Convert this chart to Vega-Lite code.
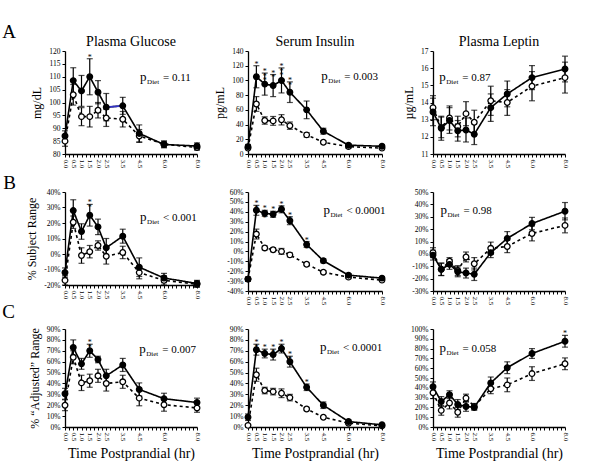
{
"$schema":"https://vega.github.io/schema/vega-lite/v6.json",
"padding":{"left":2,"top":23,"right":0,"bottom":0},
"background":"white",
"title":{"text":"A","anchor":"start","fontSize":19,"offset":-7,"frame":"bounds"},
"datasets":{"d":[
{"p":"A1","s":"F","t":0,"v":87,"e":2},{"p":"A1","s":"F","t":0.5,"v":108.5,"e":5},{"p":"A1","s":"F","t":1,"v":104.5,"e":6},{"p":"A1","s":"F","t":1.5,"v":110,"e":7,"sig":"*"},{"p":"A1","s":"F","t":2,"v":104,"e":4.5},{"p":"A1","s":"F","t":2.5,"v":98.2,"e":5.3},{"p":"A1","s":"F","t":3.5,"v":98.7,"e":3.3},{"p":"A1","s":"F","t":4.5,"v":88,"e":3.3},{"p":"A1","s":"F","t":6,"v":83.7,"e":1.3},{"p":"A1","s":"F","t":8,"v":83.1,"e":1.2},
{"p":"A1","s":"O","t":0,"v":85,"e":2},{"p":"A1","s":"O","t":0.5,"v":103,"e":4},{"p":"A1","s":"O","t":1,"v":94.5,"e":3.5},{"p":"A1","s":"O","t":1.5,"v":94.5,"e":4},{"p":"A1","s":"O","t":2,"v":97,"e":3},{"p":"A1","s":"O","t":2.5,"v":94,"e":3.3},{"p":"A1","s":"O","t":3.5,"v":93.5,"e":3},{"p":"A1","s":"O","t":4.5,"v":87,"e":2.5},{"p":"A1","s":"O","t":6,"v":83.8,"e":1.2},{"p":"A1","s":"O","t":8,"v":82.5,"e":1},
{"p":"A2","s":"F","t":0,"v":10,"e":3},{"p":"A2","s":"F","t":0.5,"v":105,"e":15,"sig":"*"},{"p":"A2","s":"F","t":1,"v":95,"e":15,"sig":"*|*|*"},{"p":"A2","s":"F","t":1.5,"v":93,"e":15,"sig":"*|*"},{"p":"A2","s":"F","t":2,"v":100,"e":17,"sig":"*|*|*"},{"p":"A2","s":"F","t":2.5,"v":84,"e":14,"sig":"*|*"},{"p":"A2","s":"F","t":3.5,"v":60,"e":12},{"p":"A2","s":"F","t":4.5,"v":31,"e":4},{"p":"A2","s":"F","t":6,"v":12,"e":2},{"p":"A2","s":"F","t":8,"v":10.5,"e":2},
{"p":"A2","s":"O","t":0,"v":8,"e":2},{"p":"A2","s":"O","t":0.5,"v":68,"e":10},{"p":"A2","s":"O","t":1,"v":45.5,"e":5},{"p":"A2","s":"O","t":1.5,"v":45,"e":6},{"p":"A2","s":"O","t":2,"v":46.5,"e":7},{"p":"A2","s":"O","t":2.5,"v":38.5,"e":5},{"p":"A2","s":"O","t":3.5,"v":26,"e":3},{"p":"A2","s":"O","t":4.5,"v":16,"e":2},{"p":"A2","s":"O","t":6,"v":10,"e":2},{"p":"A2","s":"O","t":8,"v":8,"e":2},
{"p":"A3","s":"F","t":0,"v":13.45,"e":0.8},{"p":"A3","s":"F","t":0.5,"v":12.5,"e":0.7},{"p":"A3","s":"F","t":1,"v":12.95,"e":0.75},{"p":"A3","s":"F","t":1.5,"v":12.35,"e":0.6},{"p":"A3","s":"F","t":2,"v":12.4,"e":0.7},{"p":"A3","s":"F","t":2.5,"v":12.15,"e":0.6},{"p":"A3","s":"F","t":3.5,"v":13.7,"e":0.8},{"p":"A3","s":"F","t":4.5,"v":14.5,"e":0.75},{"p":"A3","s":"F","t":6,"v":15.45,"e":0.7},{"p":"A3","s":"F","t":8,"v":15.95,"e":0.75},
{"p":"A3","s":"O","t":0,"v":13.7,"e":0.7},{"p":"A3","s":"O","t":0.5,"v":12.55,"e":0.6},{"p":"A3","s":"O","t":1,"v":13.1,"e":0.7},{"p":"A3","s":"O","t":1.5,"v":12.6,"e":0.6},{"p":"A3","s":"O","t":2,"v":13.35,"e":0.7},{"p":"A3","s":"O","t":2.5,"v":12.85,"e":0.7},{"p":"A3","s":"O","t":3.5,"v":14.1,"e":0.85},{"p":"A3","s":"O","t":4.5,"v":14.0,"e":0.75},{"p":"A3","s":"O","t":6,"v":14.95,"e":0.85},{"p":"A3","s":"O","t":8,"v":15.45,"e":0.9},
{"p":"B1","s":"F","t":0,"v":-12,"e":3},{"p":"B1","s":"F","t":0.5,"v":28,"e":7},{"p":"B1","s":"F","t":1,"v":14.5,"e":5},{"p":"B1","s":"F","t":1.5,"v":25,"e":7,"sig":"*|*"},{"p":"B1","s":"F","t":2,"v":17.5,"e":5},{"p":"B1","s":"F","t":2.5,"v":4,"e":6},{"p":"B1","s":"F","t":3.5,"v":11.5,"e":4.5},{"p":"B1","s":"F","t":4.5,"v":-8.5,"e":6},{"p":"B1","s":"F","t":6,"v":-15.5,"e":3},{"p":"B1","s":"F","t":8,"v":-19,"e":2},
{"p":"B1","s":"O","t":0,"v":-17,"e":3},{"p":"B1","s":"O","t":0.5,"v":20.5,"e":4},{"p":"B1","s":"O","t":1,"v":-1,"e":5},{"p":"B1","s":"O","t":1.5,"v":1.5,"e":4},{"p":"B1","s":"O","t":2,"v":5.5,"e":3},{"p":"B1","s":"O","t":2.5,"v":-1.5,"e":5},{"p":"B1","s":"O","t":3.5,"v":1,"e":4},{"p":"B1","s":"O","t":4.5,"v":-12,"e":4},{"p":"B1","s":"O","t":6,"v":-17,"e":3},{"p":"B1","s":"O","t":8,"v":-19.5,"e":2},
{"p":"B2","s":"F","t":0,"v":-28,"e":2},{"p":"B2","s":"F","t":0.5,"v":41.5,"e":5,"sig":"*|*|*"},{"p":"B2","s":"F","t":1,"v":38.5,"e":3,"sig":"*|*|*"},{"p":"B2","s":"F","t":1.5,"v":37.5,"e":3,"sig":"*|*|*"},{"p":"B2","s":"F","t":2,"v":42.5,"e":3.5,"sig":"*|*|*"},{"p":"B2","s":"F","t":2.5,"v":31,"e":4,"sig":"*|*|*"},{"p":"B2","s":"F","t":3.5,"v":7,"e":3,"sig":"*|*|*"},{"p":"B2","s":"F","t":4.5,"v":-9.5,"e":2},{"p":"B2","s":"F","t":6,"v":-24,"e":1.5},{"p":"B2","s":"F","t":8,"v":-27,"e":1.5},
{"p":"B2","s":"O","t":0,"v":-28,"e":2},{"p":"B2","s":"O","t":0.5,"v":17.5,"e":5},{"p":"B2","s":"O","t":1,"v":3.5,"e":2},{"p":"B2","s":"O","t":1.5,"v":1.7,"e":2},{"p":"B2","s":"O","t":2,"v":0,"e":3},{"p":"B2","s":"O","t":2.5,"v":-3.5,"e":2},{"p":"B2","s":"O","t":3.5,"v":-13,"e":1.5},{"p":"B2","s":"O","t":4.5,"v":-21,"e":1.5},{"p":"B2","s":"O","t":6,"v":-26,"e":1.5},{"p":"B2","s":"O","t":8,"v":-29,"e":1.5},
{"p":"B3","s":"F","t":0,"v":-1,"e":4},{"p":"B3","s":"F","t":0.5,"v":-12.5,"e":5},{"p":"B3","s":"F","t":1,"v":-8.5,"e":4},{"p":"B3","s":"F","t":1.5,"v":-14.5,"e":4},{"p":"B3","s":"F","t":2,"v":-15.5,"e":4},{"p":"B3","s":"F","t":2.5,"v":-16.5,"e":5},{"p":"B3","s":"F","t":3.5,"v":1,"e":4},{"p":"B3","s":"F","t":4.5,"v":12.5,"e":5.5},{"p":"B3","s":"F","t":6,"v":24.5,"e":5},{"p":"B3","s":"F","t":8,"v":34.5,"e":7},
{"p":"B3","s":"O","t":0,"v":1,"e":4},{"p":"B3","s":"O","t":0.5,"v":-12.5,"e":5},{"p":"B3","s":"O","t":1,"v":-6,"e":3},{"p":"B3","s":"O","t":1.5,"v":-13.5,"e":4},{"p":"B3","s":"O","t":2,"v":-2.5,"e":4},{"p":"B3","s":"O","t":2.5,"v":-8,"e":5},{"p":"B3","s":"O","t":3.5,"v":4.5,"e":5},{"p":"B3","s":"O","t":4.5,"v":6,"e":5},{"p":"B3","s":"O","t":6,"v":16.5,"e":6},{"p":"B3","s":"O","t":8,"v":23,"e":6},
{"p":"C1","s":"F","t":0,"v":30.5,"e":5},{"p":"C1","s":"F","t":0.5,"v":73,"e":7},{"p":"C1","s":"F","t":1,"v":58,"e":5},{"p":"C1","s":"F","t":1.5,"v":70,"e":6,"sig":"*|*"},{"p":"C1","s":"F","t":2,"v":62,"e":3},{"p":"C1","s":"F","t":2.5,"v":47,"e":6},{"p":"C1","s":"F","t":3.5,"v":57,"e":6},{"p":"C1","s":"F","t":4.5,"v":34.5,"e":6},{"p":"C1","s":"F","t":6,"v":26,"e":5},{"p":"C1","s":"F","t":8,"v":22.5,"e":4},
{"p":"C1","s":"O","t":0,"v":20,"e":5},{"p":"C1","s":"O","t":0.5,"v":64,"e":6},{"p":"C1","s":"O","t":1,"v":40.5,"e":7},{"p":"C1","s":"O","t":1.5,"v":42.5,"e":6},{"p":"C1","s":"O","t":2,"v":47,"e":6},{"p":"C1","s":"O","t":2.5,"v":40,"e":7},{"p":"C1","s":"O","t":3.5,"v":41.5,"e":6},{"p":"C1","s":"O","t":4.5,"v":26.5,"e":7},{"p":"C1","s":"O","t":6,"v":20.5,"e":6},{"p":"C1","s":"O","t":8,"v":17.5,"e":4},
{"p":"C2","s":"F","t":0,"v":9,"e":3},{"p":"C2","s":"F","t":0.5,"v":71,"e":5,"sig":"*|*|*"},{"p":"C2","s":"F","t":1,"v":67.5,"e":4,"sig":"*|*|*"},{"p":"C2","s":"F","t":1.5,"v":66.5,"e":5,"sig":"*|*|*"},{"p":"C2","s":"F","t":2,"v":72,"e":4,"sig":"*|*|*"},{"p":"C2","s":"F","t":2.5,"v":60,"e":5,"sig":"*|*|*"},{"p":"C2","s":"F","t":3.5,"v":36.5,"e":3,"sig":"*|*|*"},{"p":"C2","s":"F","t":4.5,"v":20,"e":3},{"p":"C2","s":"F","t":6,"v":5,"e":1.5},{"p":"C2","s":"F","t":8,"v":2,"e":1},
{"p":"C2","s":"O","t":0,"v":1.5,"e":1},{"p":"C2","s":"O","t":0.5,"v":48,"e":6},{"p":"C2","s":"O","t":1,"v":33.5,"e":3},{"p":"C2","s":"O","t":1.5,"v":32.5,"e":3},{"p":"C2","s":"O","t":2,"v":31,"e":4},{"p":"C2","s":"O","t":2.5,"v":27,"e":3},{"p":"C2","s":"O","t":3.5,"v":16.5,"e":1.5},{"p":"C2","s":"O","t":4.5,"v":9,"e":1},{"p":"C2","s":"O","t":6,"v":3.5,"e":1},{"p":"C2","s":"O","t":8,"v":1,"e":1},
{"p":"C3","s":"F","t":0,"v":41,"e":5},{"p":"C3","s":"F","t":0.5,"v":26,"e":5},{"p":"C3","s":"F","t":1,"v":33,"e":4},{"p":"C3","s":"F","t":1.5,"v":23,"e":5},{"p":"C3","s":"F","t":2,"v":21,"e":5},{"p":"C3","s":"F","t":2.5,"v":20,"e":3},{"p":"C3","s":"F","t":3.5,"v":45,"e":6},{"p":"C3","s":"F","t":4.5,"v":60.5,"e":6},{"p":"C3","s":"F","t":6,"v":75,"e":5},{"p":"C3","s":"F","t":8,"v":87.5,"e":6,"sig":"*"},
{"p":"C3","s":"O","t":0,"v":35,"e":6},{"p":"C3","s":"O","t":0.5,"v":17,"e":5},{"p":"C3","s":"O","t":1,"v":24.5,"e":6},{"p":"C3","s":"O","t":1.5,"v":15,"e":5},{"p":"C3","s":"O","t":2,"v":29.5,"e":4},{"p":"C3","s":"O","t":2.5,"v":21,"e":3},{"p":"C3","s":"O","t":3.5,"v":39,"e":5},{"p":"C3","s":"O","t":4.5,"v":43,"e":7},{"p":"C3","s":"O","t":6,"v":54.5,"e":7},{"p":"C3","s":"O","t":8,"v":64.5,"e":6}
]},
"columns":3,
"spacing":{"row":38,"column":51},
"bounds":"flush",
"concat":[
{"width":132,"height":103,"title":{"text":"Plasma Glucose"},
 "data":{"name":"d"},"transform":[{"filter":"datum.p=='A1'"}],
 "encoding":{"x":{"field":"t","type":"quantitative","scale":{"domain":[0,8],"nice":false},"axis":{"title":null,"values":[0,0.25,0.5,0.75,1,1.25,1.5,1.75,2,2.25,2.5,2.75,3,3.25,3.5,3.75,4,4.25,4.5,4.75,5,5.25,5.5,5.75,6,6.25,6.5,6.75,7,7.25,7.5,7.75,8],"labelExpr":"((datum.value <= 2.5 && (datum.value * 2) % 1 == 0) || datum.value == 3.5 || datum.value == 4.5 || datum.value == 6 || datum.value == 8) ? format(datum.value, '.1f') : ''"}},
  "y":{"field":"v","type":"quantitative","scale":{"domain":[80,120],"nice":false,"zero":false},"axis":{"title":"mg/dL","values":[80,85,90,95,100,105,110,115,120]}}},
 "layer":[
  {"mark":{"type":"errorbar","ticks":{"size":6},"thickness":1.2,"color":"black"},"encoding":{"yError":{"field":"e"}}},
  {"mark":{"type":"line","color":"black","strokeWidth":1.6},"encoding":{"detail":{"field":"s"},"strokeDash":{"field":"s","type":"nominal","scale":{"domain":["F","O"],"range":[[1,0],[3,3]]},"legend":null}}},
  {"transform":[{"filter":"datum.s=='F' && datum.t>=2.5 && datum.t<=3.5"}],"mark":{"type":"line","color":"#3434c8","strokeWidth":1.6}},
  {"mark":{"type":"point","filled":true,"size":32,"opacity":1,"stroke":"black","strokeWidth":1.3},"encoding":{"fill":{"field":"s","type":"nominal","scale":{"domain":["F","O"],"range":["black","white"]},"legend":null},"order":{"field":"s","sort":"descending"}}},
  {"transform":[{"filter":"isValid(datum.sig)"},{"calculate":"datum.v+datum.e","as":"top"}],"mark":{"type":"text","lineBreak":"|","lineHeight":4.6,"fontSize":8,"baseline":"bottom","dy":3},"encoding":{"y":{"field":"top","type":"quantitative"},"text":{"field":"sig"}}},
  {"transform":[{"filter":"datum.s=='F' && datum.t==0"}],"mark":{"type":"text","text":"p","fontSize":13,"align":"left","baseline":"alphabetic"},"encoding":{"x":{"datum":4.55},"y":{"datum":108.3}}},
  {"transform":[{"filter":"datum.s=='F' && datum.t==0"}],"mark":{"type":"text","text":"Diet","fontSize":7,"align":"left","baseline":"alphabetic","dx":7,"dy":3},"encoding":{"x":{"datum":4.55},"y":{"datum":108.3}}},
  {"transform":[{"filter":"datum.s=='F' && datum.t==0"}],"mark":{"type":"text","text":"= 0.11","fontSize":11,"align":"left","baseline":"alphabetic","dx":23},"encoding":{"x":{"datum":4.55},"y":{"datum":108.3}}}
 ]},
{"width":134,"height":103,"title":{"text":"Serum Insulin"},
 "data":{"name":"d"},"transform":[{"filter":"datum.p=='A2'"}],
 "encoding":{"x":{"field":"t","type":"quantitative","scale":{"domain":[0,8],"nice":false},"axis":{"title":null,"values":[0,0.25,0.5,0.75,1,1.25,1.5,1.75,2,2.25,2.5,2.75,3,3.25,3.5,3.75,4,4.25,4.5,4.75,5,5.25,5.5,5.75,6,6.25,6.5,6.75,7,7.25,7.5,7.75,8],"labelExpr":"((datum.value <= 2.5 && (datum.value * 2) % 1 == 0) || datum.value == 3.5 || datum.value == 4.5 || datum.value == 6 || datum.value == 8) ? format(datum.value, '.1f') : ''"}},
  "y":{"field":"v","type":"quantitative","scale":{"domain":[0,140],"nice":false,"zero":false},"axis":{"title":"pg/mL","values":[0,20,40,60,80,100,120,140]}}},
 "layer":[
  {"mark":{"type":"errorbar","ticks":{"size":6},"thickness":1.2,"color":"black"},"encoding":{"yError":{"field":"e"}}},
  {"mark":{"type":"line","color":"black","strokeWidth":1.6},"encoding":{"detail":{"field":"s"},"strokeDash":{"field":"s","type":"nominal","scale":{"domain":["F","O"],"range":[[1,0],[3,3]]},"legend":null}}},
  {"mark":{"type":"point","filled":true,"size":32,"opacity":1,"stroke":"black","strokeWidth":1.3},"encoding":{"fill":{"field":"s","type":"nominal","scale":{"domain":["F","O"],"range":["black","white"]},"legend":null},"order":{"field":"s","sort":"descending"}}},
  {"transform":[{"filter":"isValid(datum.sig)"},{"calculate":"datum.v+datum.e","as":"top"}],"mark":{"type":"text","lineBreak":"|","lineHeight":4.6,"fontSize":8,"baseline":"bottom","dy":3},"encoding":{"y":{"field":"top","type":"quantitative"},"text":{"field":"sig"}}},
  {"transform":[{"filter":"datum.s=='F' && datum.t==0"}],"mark":{"type":"text","text":"p","fontSize":13,"align":"left","baseline":"alphabetic"},"encoding":{"x":{"datum":4.38},"y":{"datum":100.6}}},
  {"transform":[{"filter":"datum.s=='F' && datum.t==0"}],"mark":{"type":"text","text":"Diet","fontSize":7,"align":"left","baseline":"alphabetic","dx":7,"dy":3},"encoding":{"x":{"datum":4.38},"y":{"datum":100.6}}},
  {"transform":[{"filter":"datum.s=='F' && datum.t==0"}],"mark":{"type":"text","text":"= 0.003","fontSize":11,"align":"left","baseline":"alphabetic","dx":23},"encoding":{"x":{"datum":4.38},"y":{"datum":100.6}}}
 ]},
{"width":132,"height":103,"title":{"text":"Plasma Leptin"},
 "data":{"name":"d"},"transform":[{"filter":"datum.p=='A3'"}],
 "encoding":{"x":{"field":"t","type":"quantitative","scale":{"domain":[0,8],"nice":false},"axis":{"title":null,"values":[0,0.25,0.5,0.75,1,1.25,1.5,1.75,2,2.25,2.5,2.75,3,3.25,3.5,3.75,4,4.25,4.5,4.75,5,5.25,5.5,5.75,6,6.25,6.5,6.75,7,7.25,7.5,7.75,8],"labelExpr":"((datum.value <= 2.5 && (datum.value * 2) % 1 == 0) || datum.value == 3.5 || datum.value == 4.5 || datum.value == 6 || datum.value == 8) ? format(datum.value, '.1f') : ''"}},
  "y":{"field":"v","type":"quantitative","scale":{"domain":[11,17],"nice":false,"zero":false},"axis":{"title":"µg/mL","values":[11,12,13,14,15,16,17]}}},
 "layer":[
  {"mark":{"type":"errorbar","ticks":{"size":6},"thickness":1.2,"color":"black"},"encoding":{"yError":{"field":"e"}}},
  {"mark":{"type":"line","color":"black","strokeWidth":1.6},"encoding":{"detail":{"field":"s"},"strokeDash":{"field":"s","type":"nominal","scale":{"domain":["F","O"],"range":[[1,0],[3,3]]},"legend":null}}},
  {"mark":{"type":"point","filled":true,"size":32,"opacity":1,"stroke":"black","strokeWidth":1.3},"encoding":{"fill":{"field":"s","type":"nominal","scale":{"domain":["F","O"],"range":["black","white"]},"legend":null},"order":{"field":"s","sort":"descending"}}},
  {"transform":[{"filter":"datum.s=='F' && datum.t==0"}],"mark":{"type":"text","text":"p","fontSize":13,"align":"left","baseline":"alphabetic"},"encoding":{"x":{"datum":0.38},"y":{"datum":15.25}}},
  {"transform":[{"filter":"datum.s=='F' && datum.t==0"}],"mark":{"type":"text","text":"Diet","fontSize":7,"align":"left","baseline":"alphabetic","dx":7,"dy":3},"encoding":{"x":{"datum":0.38},"y":{"datum":15.25}}},
  {"transform":[{"filter":"datum.s=='F' && datum.t==0"}],"mark":{"type":"text","text":"= 0.87","fontSize":11,"align":"left","baseline":"alphabetic","dx":23},"encoding":{"x":{"datum":0.38},"y":{"datum":15.25}}}
 ]},
{"width":132,"height":93,
 "data":{"name":"d"},"transform":[{"filter":"datum.p=='B1'"}],
 "encoding":{"x":{"field":"t","type":"quantitative","scale":{"domain":[0,8],"nice":false},"axis":{"title":null,"values":[0,0.25,0.5,0.75,1,1.25,1.5,1.75,2,2.25,2.5,2.75,3,3.25,3.5,3.75,4,4.25,4.5,4.75,5,5.25,5.5,5.75,6,6.25,6.5,6.75,7,7.25,7.5,7.75,8],"labelExpr":"((datum.value <= 2.5 && (datum.value * 2) % 1 == 0) || datum.value == 3.5 || datum.value == 4.5 || datum.value == 6 || datum.value == 8) ? format(datum.value, '.1f') : ''"}},
  "y":{"field":"v","type":"quantitative","scale":{"domain":[-20,40],"nice":false,"zero":false},"axis":{"title":"% Subject Range","values":[-20,-10,0,10,20,30,40],"labelExpr":"datum.value + '%'"}}},
 "layer":[
  {"mark":{"type":"errorbar","ticks":{"size":6},"thickness":1.2,"color":"black"},"encoding":{"yError":{"field":"e"}}},
  {"mark":{"type":"line","color":"black","strokeWidth":1.6},"encoding":{"detail":{"field":"s"},"strokeDash":{"field":"s","type":"nominal","scale":{"domain":["F","O"],"range":[[1,0],[3,3]]},"legend":null}}},
  {"mark":{"type":"point","filled":true,"size":32,"opacity":1,"stroke":"black","strokeWidth":1.3},"encoding":{"fill":{"field":"s","type":"nominal","scale":{"domain":["F","O"],"range":["black","white"]},"legend":null},"order":{"field":"s","sort":"descending"}}},
  {"transform":[{"filter":"isValid(datum.sig)"},{"calculate":"datum.v+datum.e","as":"top"}],"mark":{"type":"text","lineBreak":"|","lineHeight":4.6,"fontSize":8,"baseline":"bottom","dy":3},"encoding":{"y":{"field":"top","type":"quantitative"},"text":{"field":"sig"}}},
  {"transform":[{"filter":"datum.s=='F' && datum.t==0"}],"mark":{"type":"text","text":"B","fontSize":19,"align":"left","baseline":"middle"},"encoding":{"x":{"datum":-3.75},"y":{"datum":45.8}}},
  {"transform":[{"filter":"datum.s=='F' && datum.t==0"}],"mark":{"type":"text","text":"p","fontSize":13,"align":"left","baseline":"alphabetic"},"encoding":{"x":{"datum":4.55},"y":{"datum":21.3}}},
  {"transform":[{"filter":"datum.s=='F' && datum.t==0"}],"mark":{"type":"text","text":"Diet","fontSize":7,"align":"left","baseline":"alphabetic","dx":7,"dy":3},"encoding":{"x":{"datum":4.55},"y":{"datum":21.3}}},
  {"transform":[{"filter":"datum.s=='F' && datum.t==0"}],"mark":{"type":"text","text":"< 0.001","fontSize":11,"align":"left","baseline":"alphabetic","dx":23},"encoding":{"x":{"datum":4.55},"y":{"datum":21.3}}}
 ]},
{"width":134,"height":99,
 "data":{"name":"d"},"transform":[{"filter":"datum.p=='B2'"}],
 "encoding":{"x":{"field":"t","type":"quantitative","scale":{"domain":[0,8],"nice":false},"axis":{"title":null,"values":[0,0.25,0.5,0.75,1,1.25,1.5,1.75,2,2.25,2.5,2.75,3,3.25,3.5,3.75,4,4.25,4.5,4.75,5,5.25,5.5,5.75,6,6.25,6.5,6.75,7,7.25,7.5,7.75,8],"labelExpr":"((datum.value <= 2.5 && (datum.value * 2) % 1 == 0) || datum.value == 3.5 || datum.value == 4.5 || datum.value == 6 || datum.value == 8) ? format(datum.value, '.1f') : ''"}},
  "y":{"field":"v","type":"quantitative","scale":{"domain":[-40,60],"nice":false,"zero":false},"axis":{"title":null,"values":[-40,-30,-20,-10,0,10,20,30,40,50,60],"labelExpr":"datum.value + '%'"}}},
 "layer":[
  {"mark":{"type":"errorbar","ticks":{"size":6},"thickness":1.2,"color":"black"},"encoding":{"yError":{"field":"e"}}},
  {"mark":{"type":"line","color":"black","strokeWidth":1.6},"encoding":{"detail":{"field":"s"},"strokeDash":{"field":"s","type":"nominal","scale":{"domain":["F","O"],"range":[[1,0],[3,3]]},"legend":null}}},
  {"mark":{"type":"point","filled":true,"size":32,"opacity":1,"stroke":"black","strokeWidth":1.3},"encoding":{"fill":{"field":"s","type":"nominal","scale":{"domain":["F","O"],"range":["black","white"]},"legend":null},"order":{"field":"s","sort":"descending"}}},
  {"transform":[{"filter":"isValid(datum.sig)"},{"calculate":"datum.v+datum.e","as":"top"}],"mark":{"type":"text","lineBreak":"|","lineHeight":4.6,"fontSize":8,"baseline":"bottom","dy":3},"encoding":{"y":{"field":"top","type":"quantitative"},"text":{"field":"sig"}}},
  {"transform":[{"filter":"datum.s=='F' && datum.t==0"}],"mark":{"type":"text","text":"p","fontSize":13,"align":"left","baseline":"alphabetic"},"encoding":{"x":{"datum":4.5},"y":{"datum":38}}},
  {"transform":[{"filter":"datum.s=='F' && datum.t==0"}],"mark":{"type":"text","text":"Diet","fontSize":7,"align":"left","baseline":"alphabetic","dx":7,"dy":3},"encoding":{"x":{"datum":4.5},"y":{"datum":38}}},
  {"transform":[{"filter":"datum.s=='F' && datum.t==0"}],"mark":{"type":"text","text":"< 0.0001","fontSize":11,"align":"left","baseline":"alphabetic","dx":23},"encoding":{"x":{"datum":4.5},"y":{"datum":38}}}
 ]},
{"width":132,"height":99,
 "data":{"name":"d"},"transform":[{"filter":"datum.p=='B3'"}],
 "encoding":{"x":{"field":"t","type":"quantitative","scale":{"domain":[0,8],"nice":false},"axis":{"title":null,"values":[0,0.25,0.5,0.75,1,1.25,1.5,1.75,2,2.25,2.5,2.75,3,3.25,3.5,3.75,4,4.25,4.5,4.75,5,5.25,5.5,5.75,6,6.25,6.5,6.75,7,7.25,7.5,7.75,8],"labelExpr":"((datum.value <= 2.5 && (datum.value * 2) % 1 == 0) || datum.value == 3.5 || datum.value == 4.5 || datum.value == 6 || datum.value == 8) ? format(datum.value, '.1f') : ''"}},
  "y":{"field":"v","type":"quantitative","scale":{"domain":[-30,50],"nice":false,"zero":false},"axis":{"title":null,"values":[-30,-20,-10,0,10,20,30,40,50],"labelExpr":"datum.value + '%'"}}},
 "layer":[
  {"mark":{"type":"errorbar","ticks":{"size":6},"thickness":1.2,"color":"black"},"encoding":{"yError":{"field":"e"}}},
  {"mark":{"type":"line","color":"black","strokeWidth":1.6},"encoding":{"detail":{"field":"s"},"strokeDash":{"field":"s","type":"nominal","scale":{"domain":["F","O"],"range":[[1,0],[3,3]]},"legend":null}}},
  {"mark":{"type":"point","filled":true,"size":32,"opacity":1,"stroke":"black","strokeWidth":1.3},"encoding":{"fill":{"field":"s","type":"nominal","scale":{"domain":["F","O"],"range":["black","white"]},"legend":null},"order":{"field":"s","sort":"descending"}}},
  {"transform":[{"filter":"datum.s=='F' && datum.t==0"}],"mark":{"type":"text","text":"p","fontSize":13,"align":"left","baseline":"alphabetic"},"encoding":{"x":{"datum":0.45},"y":{"datum":32.4}}},
  {"transform":[{"filter":"datum.s=='F' && datum.t==0"}],"mark":{"type":"text","text":"Diet","fontSize":7,"align":"left","baseline":"alphabetic","dx":7,"dy":3},"encoding":{"x":{"datum":0.45},"y":{"datum":32.4}}},
  {"transform":[{"filter":"datum.s=='F' && datum.t==0"}],"mark":{"type":"text","text":"= 0.98","fontSize":11,"align":"left","baseline":"alphabetic","dx":23},"encoding":{"x":{"datum":0.45},"y":{"datum":32.4}}}
 ]},
{"width":132,"height":98,
 "data":{"name":"d"},"transform":[{"filter":"datum.p=='C1'"}],
 "encoding":{"x":{"field":"t","type":"quantitative","scale":{"domain":[0,8],"nice":false},"axis":{"title":"Time Postprandial (hr)","values":[0,0.25,0.5,0.75,1,1.25,1.5,1.75,2,2.25,2.5,2.75,3,3.25,3.5,3.75,4,4.25,4.5,4.75,5,5.25,5.5,5.75,6,6.25,6.5,6.75,7,7.25,7.5,7.75,8],"labelExpr":"((datum.value <= 2.5 && (datum.value * 2) % 1 == 0) || datum.value == 3.5 || datum.value == 4.5 || datum.value == 6 || datum.value == 8) ? format(datum.value, '.1f') : ''"}},
  "y":{"field":"v","type":"quantitative","scale":{"domain":[0,90],"nice":false,"zero":false},"axis":{"title":"% “Adjusted” Range","values":[0,10,20,30,40,50,60,70,80,90],"labelExpr":"datum.value + '%'"}}},
 "layer":[
  {"mark":{"type":"errorbar","ticks":{"size":6},"thickness":1.2,"color":"black"},"encoding":{"yError":{"field":"e"}}},
  {"mark":{"type":"line","color":"black","strokeWidth":1.6},"encoding":{"detail":{"field":"s"},"strokeDash":{"field":"s","type":"nominal","scale":{"domain":["F","O"],"range":[[1,0],[3,3]]},"legend":null}}},
  {"mark":{"type":"point","filled":true,"size":32,"opacity":1,"stroke":"black","strokeWidth":1.3},"encoding":{"fill":{"field":"s","type":"nominal","scale":{"domain":["F","O"],"range":["black","white"]},"legend":null},"order":{"field":"s","sort":"descending"}}},
  {"transform":[{"filter":"isValid(datum.sig)"},{"calculate":"datum.v+datum.e","as":"top"}],"mark":{"type":"text","lineBreak":"|","lineHeight":4.6,"fontSize":8,"baseline":"bottom","dy":3},"encoding":{"y":{"field":"top","type":"quantitative"},"text":{"field":"sig"}}},
  {"transform":[{"filter":"datum.s=='F' && datum.t==0"}],"mark":{"type":"text","text":"C","fontSize":19,"align":"left","baseline":"middle"},"encoding":{"x":{"datum":-3.8},"y":{"datum":105.6}}},
  {"transform":[{"filter":"datum.s=='F' && datum.t==0"}],"mark":{"type":"text","text":"p","fontSize":13,"align":"left","baseline":"alphabetic"},"encoding":{"x":{"datum":4.5},"y":{"datum":68}}},
  {"transform":[{"filter":"datum.s=='F' && datum.t==0"}],"mark":{"type":"text","text":"Diet","fontSize":7,"align":"left","baseline":"alphabetic","dx":7,"dy":3},"encoding":{"x":{"datum":4.5},"y":{"datum":68}}},
  {"transform":[{"filter":"datum.s=='F' && datum.t==0"}],"mark":{"type":"text","text":"= 0.007","fontSize":11,"align":"left","baseline":"alphabetic","dx":23},"encoding":{"x":{"datum":4.5},"y":{"datum":68}}}
 ]},
{"width":134,"height":98,
 "data":{"name":"d"},"transform":[{"filter":"datum.p=='C2'"}],
 "encoding":{"x":{"field":"t","type":"quantitative","scale":{"domain":[0,8],"nice":false},"axis":{"title":"Time Postprandial (hr)","values":[0,0.25,0.5,0.75,1,1.25,1.5,1.75,2,2.25,2.5,2.75,3,3.25,3.5,3.75,4,4.25,4.5,4.75,5,5.25,5.5,5.75,6,6.25,6.5,6.75,7,7.25,7.5,7.75,8],"labelExpr":"((datum.value <= 2.5 && (datum.value * 2) % 1 == 0) || datum.value == 3.5 || datum.value == 4.5 || datum.value == 6 || datum.value == 8) ? format(datum.value, '.1f') : ''"}},
  "y":{"field":"v","type":"quantitative","scale":{"domain":[0,90],"nice":false,"zero":false},"axis":{"title":null,"values":[0,10,20,30,40,50,60,70,80,90],"labelExpr":"datum.value + '%'"}}},
 "layer":[
  {"mark":{"type":"errorbar","ticks":{"size":6},"thickness":1.2,"color":"black"},"encoding":{"yError":{"field":"e"}}},
  {"mark":{"type":"line","color":"black","strokeWidth":1.6},"encoding":{"detail":{"field":"s"},"strokeDash":{"field":"s","type":"nominal","scale":{"domain":["F","O"],"range":[[1,0],[3,3]]},"legend":null}}},
  {"mark":{"type":"point","filled":true,"size":32,"opacity":1,"stroke":"black","strokeWidth":1.3},"encoding":{"fill":{"field":"s","type":"nominal","scale":{"domain":["F","O"],"range":["black","white"]},"legend":null},"order":{"field":"s","sort":"descending"}}},
  {"transform":[{"filter":"isValid(datum.sig)"},{"calculate":"datum.v+datum.e","as":"top"}],"mark":{"type":"text","lineBreak":"|","lineHeight":4.6,"fontSize":8,"baseline":"bottom","dy":3},"encoding":{"y":{"field":"top","type":"quantitative"},"text":{"field":"sig"}}},
  {"transform":[{"filter":"datum.s=='F' && datum.t==0"}],"mark":{"type":"text","text":"p","fontSize":13,"align":"left","baseline":"alphabetic"},"encoding":{"x":{"datum":4.3},"y":{"datum":69.8}}},
  {"transform":[{"filter":"datum.s=='F' && datum.t==0"}],"mark":{"type":"text","text":"Diet","fontSize":7,"align":"left","baseline":"alphabetic","dx":7,"dy":3},"encoding":{"x":{"datum":4.3},"y":{"datum":69.8}}},
  {"transform":[{"filter":"datum.s=='F' && datum.t==0"}],"mark":{"type":"text","text":"< 0.0001","fontSize":11,"align":"left","baseline":"alphabetic","dx":23},"encoding":{"x":{"datum":4.3},"y":{"datum":69.8}}}
 ]},
{"width":132,"height":98,
 "data":{"name":"d"},"transform":[{"filter":"datum.p=='C3'"}],
 "encoding":{"x":{"field":"t","type":"quantitative","scale":{"domain":[0,8],"nice":false},"axis":{"title":"Time Postprandial (hr)","values":[0,0.25,0.5,0.75,1,1.25,1.5,1.75,2,2.25,2.5,2.75,3,3.25,3.5,3.75,4,4.25,4.5,4.75,5,5.25,5.5,5.75,6,6.25,6.5,6.75,7,7.25,7.5,7.75,8],"labelExpr":"((datum.value <= 2.5 && (datum.value * 2) % 1 == 0) || datum.value == 3.5 || datum.value == 4.5 || datum.value == 6 || datum.value == 8) ? format(datum.value, '.1f') : ''"}},
  "y":{"field":"v","type":"quantitative","scale":{"domain":[0,100],"nice":false,"zero":false},"axis":{"title":null,"values":[0,10,20,30,40,50,60,70,80,90,100],"labelExpr":"datum.value + '%'"}}},
 "layer":[
  {"mark":{"type":"errorbar","ticks":{"size":6},"thickness":1.2,"color":"black"},"encoding":{"yError":{"field":"e"}}},
  {"mark":{"type":"line","color":"black","strokeWidth":1.6},"encoding":{"detail":{"field":"s"},"strokeDash":{"field":"s","type":"nominal","scale":{"domain":["F","O"],"range":[[1,0],[3,3]]},"legend":null}}},
  {"mark":{"type":"point","filled":true,"size":32,"opacity":1,"stroke":"black","strokeWidth":1.3},"encoding":{"fill":{"field":"s","type":"nominal","scale":{"domain":["F","O"],"range":["black","white"]},"legend":null},"order":{"field":"s","sort":"descending"}}},
  {"transform":[{"filter":"isValid(datum.sig)"},{"calculate":"datum.v+datum.e","as":"top"}],"mark":{"type":"text","lineBreak":"|","lineHeight":4.6,"fontSize":8,"baseline":"bottom","dy":3},"encoding":{"y":{"field":"top","type":"quantitative"},"text":{"field":"sig"}}},
  {"transform":[{"filter":"datum.s=='F' && datum.t==0"}],"mark":{"type":"text","text":"p","fontSize":13,"align":"left","baseline":"alphabetic"},"encoding":{"x":{"datum":0.4},"y":{"datum":76.4}}},
  {"transform":[{"filter":"datum.s=='F' && datum.t==0"}],"mark":{"type":"text","text":"Diet","fontSize":7,"align":"left","baseline":"alphabetic","dx":7,"dy":3},"encoding":{"x":{"datum":0.4},"y":{"datum":76.4}}},
  {"transform":[{"filter":"datum.s=='F' && datum.t==0"}],"mark":{"type":"text","text":"= 0.058","fontSize":11,"align":"left","baseline":"alphabetic","dx":23},"encoding":{"x":{"datum":0.4},"y":{"datum":76.4}}}
 ]}
],
"config":{
 "font":"Liberation Serif",
 "view":{"stroke":null},
 "axis":{"grid":false,"domainColor":"black","domainWidth":1.3,"tickColor":"black","tickWidth":1,"tickSize":3,"labelColor":"black","titleColor":"black","labelFont":"Liberation Serif","titleFont":"Liberation Serif","titleFontWeight":"normal","titleFontSize":12,"labelFontSize":7.5},
 "axisX":{"labelAngle":90,"labelFontSize":7,"labelOverlap":false,"labelFlush":false,"labelPadding":2,"titleFontSize":14,"titlePadding":6},
 "axisY":{"labelPadding":2,"titlePadding":5},
 "title":{"font":"Liberation Serif","fontWeight":"normal","fontSize":14,"color":"black","offset":-2},
 "text":{"font":"Liberation Serif","color":"black"}
}
}
